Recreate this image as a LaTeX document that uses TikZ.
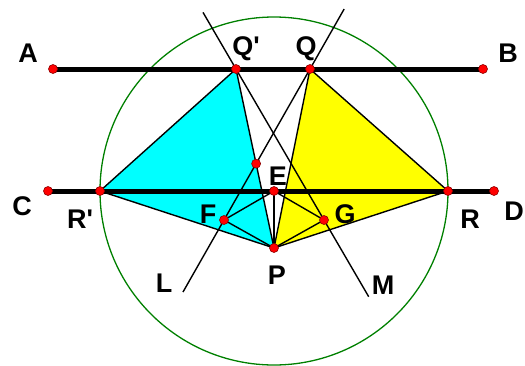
\documentclass[tikz,border=0pt]{standalone}
\usepackage{fontspec}
\setmainfont{Liberation Sans}
\usetikzlibrary{calc}
\definecolor{aqua}{RGB}{0,255,255}
\definecolor{lemon}{RGB}{255,255,0}

\begin{document}
\begin{tikzpicture}[
  x=1pt,
  y=-1pt,
  font=\fontsize{27}{30}\selectfont\bfseries,
  thinline/.style={draw=black, line width=1.4pt},
  thickline/.style={draw=black, line width=5pt},
  dot/.style={
    circle,
    fill=red,
    draw=red!55!black,
    line width=0.6pt,
    inner sep=0pt,
    minimum size=9pt
  },
  lbl/.style={inner sep=0pt, anchor=base}
]
\useasboundingbox (0,0) rectangle (525,365);

\coordinate (A) at (53,69);
\coordinate (B) at (483,69);
\coordinate (Qp) at (236,69);
\coordinate (Q) at (310,69);
\coordinate (C) at (48,191);
\coordinate (D) at (494,191);
\coordinate (Rp) at (100,191);
\coordinate (R) at (448,191);
\coordinate (E) at (274,191);
\coordinate (P) at (274,248);
\coordinate (F) at (224,220);
\coordinate (G) at (324,220);
\coordinate (X) at (intersection of Q--F and Qp--P);
\coordinate (Ltop) at ($(Q)!-0.397!(F)$);
\coordinate (Lend) at ($(Q)!1.477!(F)$);
\coordinate (Mtop) at ($(Qp)!-0.375!(G)$);
\coordinate (Mend) at ($(Qp)!1.508!(G)$);

\fill[aqua] (Qp) -- (Rp) -- (P) -- cycle;
\fill[lemon] (Q) -- (R) -- (P) -- cycle;
\draw[green!50!black, line width=1.3pt] (E) circle[radius=174pt];

\draw[thinline] (Ltop) -- (Lend);
\draw[thinline] (Mtop) -- (Mend);
\draw[thinline] (Qp) -- (Rp) -- (P) -- cycle;
\draw[thinline] (Q) -- (R) -- (P) -- cycle;
\draw[thinline] (E) -- (F) -- (P) -- (G) -- cycle;
\draw[thinline] (E) -- (P);
\draw[thickline] (A) -- (B);
\draw[thickline] (C) -- (D);

\foreach \p in {A,B,C,D,Qp,Q,Rp,R,E,F,G,P,X}
  \node[dot] (dot\p) at (\p) {};

\node[lbl] (lA) at (28,62) {A};
\node[lbl] (lB) at (508,62) {B};
\node[lbl] (lQp) at (246,55) {Q\textquotesingle};
\node[lbl] (lQ) at (306,55) {Q};
\node[lbl] (lC) at (22,215) {C};
\node[lbl] (lD) at (514,220) {D};
\node[lbl] (lRp) at (80,228) {R\textquotesingle};
\node[lbl] (lR) at (470,228) {R};
\node[lbl] (lE) at (278,185) {E};
\node[lbl] (lF) at (208,223) {F};
\node[lbl] (lG) at (345,223) {G};
\node[lbl] (lP) at (277,284) {P};
\node[lbl] (lL) at (164,292) {L};
\node[lbl] (lM) at (383,294) {M};
\end{tikzpicture}
\end{document}
